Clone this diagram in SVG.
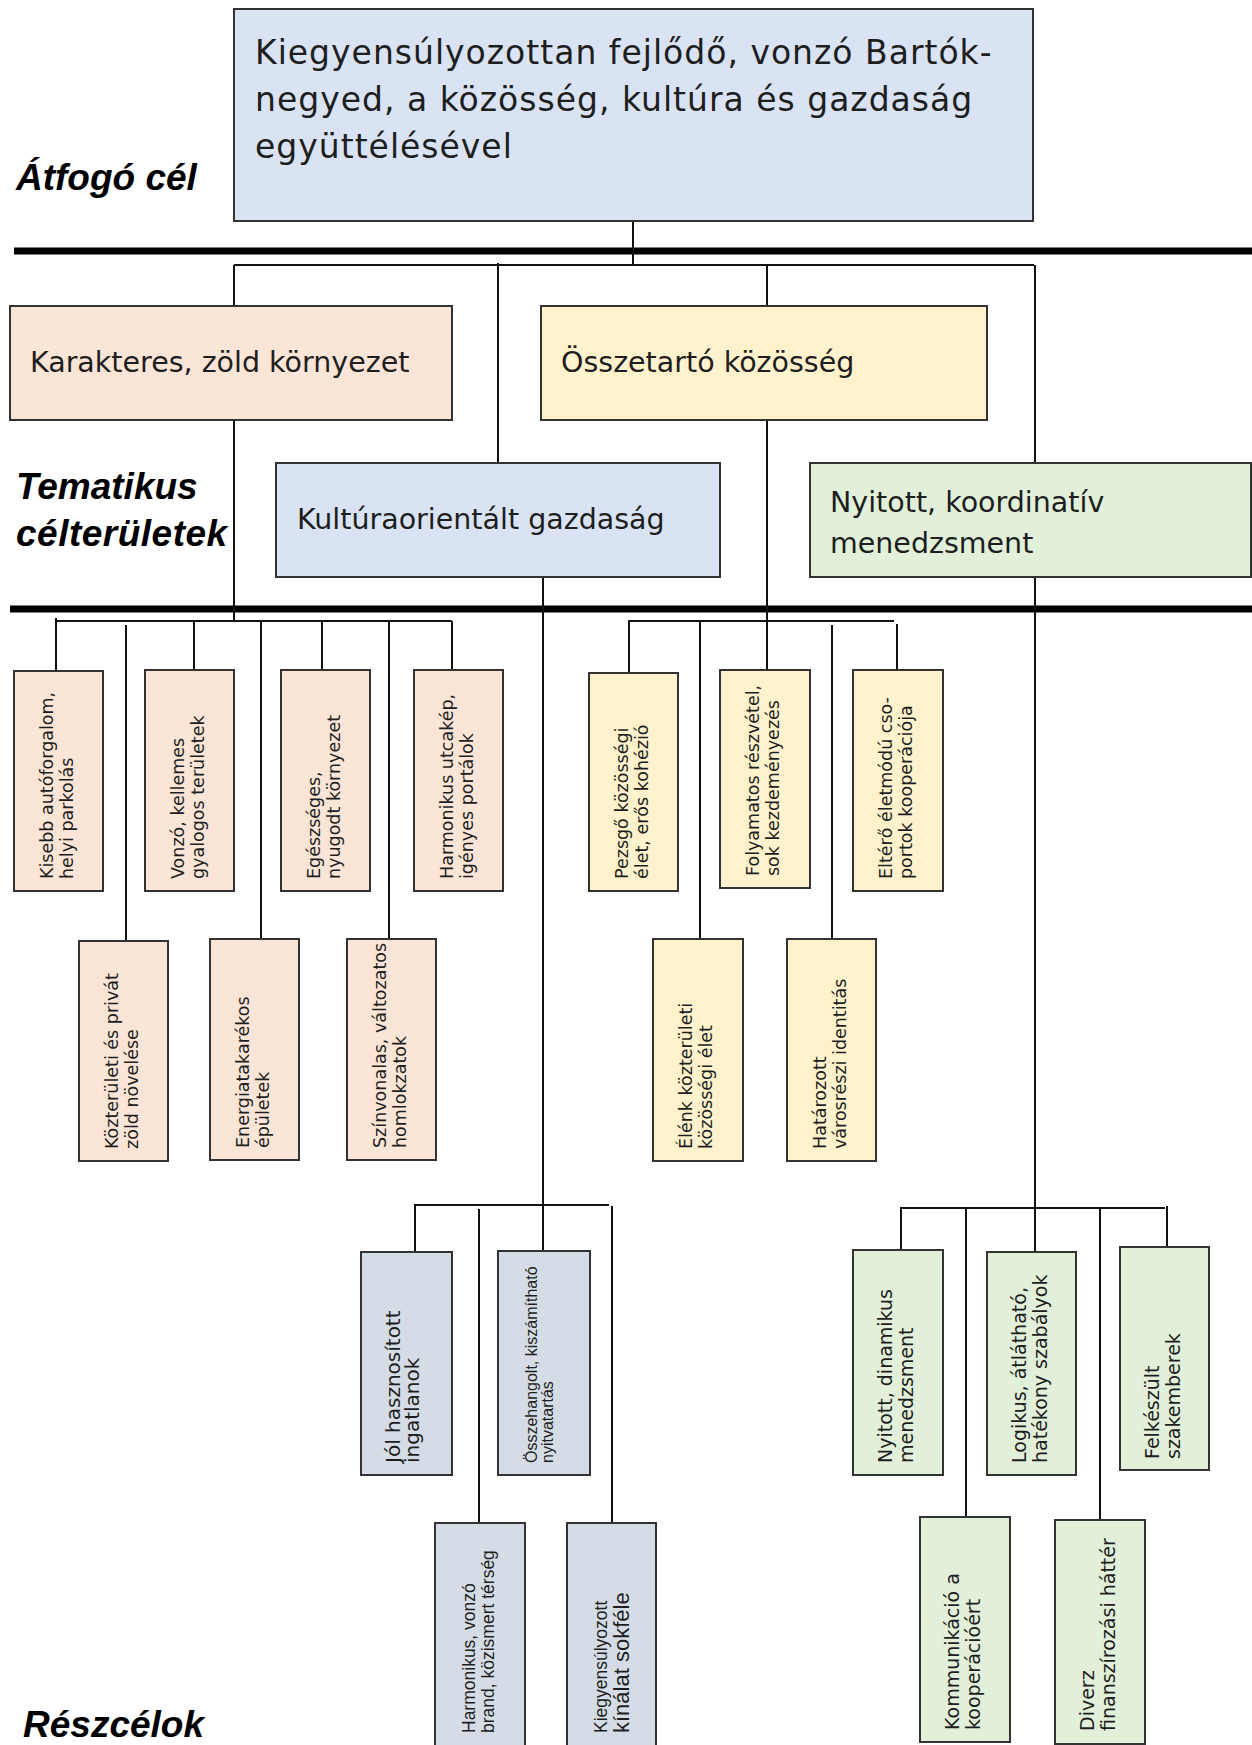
<svg xmlns="http://www.w3.org/2000/svg" width="1252" height="1745" viewBox="0 0 1252 1745">
<style>
.box{stroke:#333;stroke-width:2}
.blue{fill:#dae3f3}.pink{fill:#fbe5d6}.yellow{fill:#fff2cc}.green{fill:#e2f0d9}.gray{fill:#d6dce5}
.tx{font-family:"DejaVu Sans","Open Sans",sans-serif;fill:#1e1e1e}
.t1{font-size:33px;letter-spacing:1px}.t2{font-size:28.5px}.t3{font-size:17.5px}.t4{font-size:19px}.t5{font-size:20px}
.nar{font-family:"Liberation Sans",Arial,sans-serif;fill:#1e1e1e}
.lbl{font-family:"Liberation Sans",Arial,sans-serif;font-weight:bold;font-style:italic;font-size:37px;fill:#000}
#connectors line{stroke:#111;stroke-width:2}
#connectors line.thick{stroke:#000;stroke-width:7}
</style>
<rect width="1252" height="1745" fill="#fff"/>
<g id="labels">
<text class="lbl" x="16" y="190">Átfogó cél</text>
<text class="lbl" x="16" y="499">Tematikus</text>
<text class="lbl" x="16" y="546" letter-spacing="0.5">célterületek</text>
<text class="lbl" x="23" y="1737">Részcélok</text>
</g>
<g id="connectors">
<line class="thick" x1="14" y1="251" x2="1252" y2="251"/>
<line class="thick" x1="10" y1="609" x2="1252" y2="609"/>
<line x1="633" y1="221" x2="633" y2="265"/>
<line x1="234" y1="265" x2="1034" y2="265"/>
<line x1="234" y1="265" x2="234" y2="306"/>
<line x1="498" y1="263" x2="498" y2="463"/>
<line x1="767" y1="265" x2="767" y2="306"/>
<line x1="1035" y1="265" x2="1035" y2="463"/>
<line x1="234" y1="420" x2="234" y2="621"/>
<line x1="56" y1="621" x2="452" y2="621"/>
<line x1="56" y1="618" x2="56" y2="671"/>
<line x1="126" y1="625" x2="126" y2="941"/>
<line x1="194" y1="621" x2="194" y2="670"/>
<line x1="261" y1="621" x2="261" y2="939"/>
<line x1="322" y1="621" x2="322" y2="670"/>
<line x1="389" y1="621" x2="389" y2="939"/>
<line x1="452" y1="621" x2="452" y2="670"/>
<line x1="767" y1="420" x2="767" y2="670"/>
<line x1="628" y1="621" x2="894" y2="621"/>
<line x1="629" y1="621" x2="629" y2="673"/>
<line x1="700" y1="621" x2="700" y2="939"/>
<line x1="832" y1="625" x2="832" y2="939"/>
<line x1="897" y1="624" x2="897" y2="670"/>
<line x1="543" y1="577" x2="543" y2="1251"/>
<line x1="414" y1="1205" x2="609" y2="1205"/>
<line x1="415" y1="1205" x2="415" y2="1252"/>
<line x1="479" y1="1209" x2="479" y2="1523"/>
<line x1="612" y1="1206" x2="612" y2="1523"/>
<line x1="1035" y1="577" x2="1035" y2="1252"/>
<line x1="900" y1="1208" x2="1165" y2="1208"/>
<line x1="901" y1="1208" x2="901" y2="1250"/>
<line x1="966" y1="1207" x2="966" y2="1517"/>
<line x1="1100" y1="1208" x2="1100" y2="1520"/>
<line x1="1167" y1="1206" x2="1167" y2="1247"/>
</g>
<g id="goal">
<rect class="box blue" x="234" y="9" width="799" height="212"/>
<text class="tx t1" x="255" y="64">Kiegyensúlyozottan fejlődő, vonzó Bartók-</text>
<text class="tx t1" x="255" y="111">negyed, a közösség, kultúra és gazdaság</text>
<text class="tx t1" x="255" y="158">együttélésével</text>
</g>
<g id="theme-karakteres">
<rect class="box pink" x="10" y="306" width="442" height="114"/>
<text class="tx t2" x="30" y="372">Karakteres, zöld környezet</text>
</g>
<g id="theme-osszetarto">
<rect class="box yellow" x="541" y="306" width="446" height="114"/>
<text class="tx t2" x="561" y="372">Összetartó közösség</text>
</g>
<g id="theme-kultura">
<rect class="box blue" x="276" y="463" width="444" height="114"/>
<text class="tx t2" x="297" y="529">Kultúraorientált gazdaság</text>
</g>
<g id="theme-nyitott">
<rect class="box green" x="810" y="463" width="441" height="114"/>
<text class="tx t2" x="830" y="512">Nyitott, koordinatív</text>
<text class="tx t2" x="830" y="553">menedzsment</text>
</g>
<g id="p1"><rect class="box pink" x="14" y="671" width="89" height="220"/>
<text class="tx t3" transform="translate(52.5,879) rotate(-90)"><tspan x="0" y="0">Kisebb autóforgalom,</tspan><tspan x="0" y="20">helyi parkolás</tspan></text></g>
<g id="p2"><rect class="box pink" x="79" y="941" width="89" height="220"/>
<text class="tx t3" transform="translate(117.5,1149) rotate(-90)"><tspan x="0" y="0">Közterületi és privát</tspan><tspan x="0" y="20">zöld növelése</tspan></text></g>
<g id="p3"><rect class="box pink" x="145" y="670" width="89" height="221"/>
<text class="tx t3" transform="translate(183.5,879) rotate(-90)"><tspan x="0" y="0">Vonzó, kellemes</tspan><tspan x="0" y="20">gyalogos területek</tspan></text></g>
<g id="p4"><rect class="box pink" x="210" y="939" width="89" height="221"/>
<text class="tx t3" transform="translate(248.5,1148) rotate(-90)"><tspan x="0" y="0">Energiatakarékos</tspan><tspan x="0" y="20">épületek</tspan></text></g>
<g id="p5"><rect class="box pink" x="281" y="670" width="89" height="221"/>
<text class="tx t3" transform="translate(319.5,879) rotate(-90)"><tspan x="0" y="0">Egészséges,</tspan><tspan x="0" y="20">nyugodt környezet</tspan></text></g>
<g id="p6"><rect class="box pink" x="347" y="939" width="89" height="221"/>
<text class="tx t3" transform="translate(385.5,1148) rotate(-90)"><tspan x="0" y="0">Színvonalas, változatos</tspan><tspan x="0" y="20">homlokzatok</tspan></text></g>
<g id="p7"><rect class="box pink" x="414" y="670" width="89" height="221"/>
<text class="tx t3" transform="translate(452.5,879) rotate(-90)"><tspan x="0" y="0">Harmonikus utcakép,</tspan><tspan x="0" y="20">igényes portálok</tspan></text></g>
<g id="y1"><rect class="box yellow" x="589" y="673" width="89" height="218"/>
<text class="tx t3" transform="translate(627.5,879) rotate(-90)"><tspan x="0" y="0">Pezsgő közösségi</tspan><tspan x="0" y="20">élet, erős kohézió</tspan></text></g>
<g id="y2"><rect class="box yellow" x="653" y="939" width="90" height="222"/>
<text class="tx t3" transform="translate(692,1149) rotate(-90)"><tspan x="0" y="0">Élénk közterületi</tspan><tspan x="0" y="20">közösségi élet</tspan></text></g>
<g id="y3"><rect class="box yellow" x="720" y="670" width="90" height="218"/>
<text class="tx t3" transform="translate(759,876) rotate(-90)"><tspan x="0" y="0">Folyamatos részvétel,</tspan><tspan x="0" y="20">sok kezdeményezés</tspan></text></g>
<g id="y4"><rect class="box yellow" x="787" y="939" width="89" height="222"/>
<text class="tx t3" transform="translate(825.5,1149) rotate(-90)"><tspan x="0" y="0">Határozott</tspan><tspan x="0" y="20">városrészi identitás</tspan></text></g>
<g id="y5"><rect class="box yellow" x="853" y="670" width="90" height="221"/>
<text class="tx t3" transform="translate(892,879) rotate(-90)"><tspan x="0" y="0">Eltérő életmódú cso-</tspan><tspan x="0" y="20">portok kooperációja</tspan></text></g>
<g id="k1"><rect class="box gray" x="361" y="1252" width="91" height="223"/>
<text class="tx t5" transform="translate(400,1463) rotate(-90)"><tspan x="0" y="0">Jól hasznosított</tspan><tspan x="0" y="19">ingatlanok</tspan></text></g>
<g id="k2"><rect class="box gray" x="498" y="1251" width="92" height="224"/>
<text class="nar" font-size="16" transform="translate(537,1463) rotate(-90)"><tspan x="0" y="0">Összehangolt, kiszámítható</tspan><tspan x="0" y="16">nyitvatartás</tspan></text></g>
<g id="k3"><rect class="box gray" x="435" y="1523" width="90" height="240"/>
<text class="nar" font-size="17.5" transform="translate(475,1733) rotate(-90)"><tspan x="0" y="0">Harmonikus, vonzó</tspan><tspan x="0" y="19">brand, közismert térség</tspan></text></g>
<g id="k4"><rect class="box gray" x="567" y="1523" width="89" height="240"/>
<text class="nar" font-size="17.5" transform="translate(607,1733) rotate(-90)"><tspan x="0" y="0">Kiegyensúlyozott</tspan><tspan x="0" y="22" font-size="22">kínálat sokféle</tspan></text></g>
<g id="g1"><rect class="box green" x="853" y="1250" width="90" height="225"/>
<text class="tx t4" transform="translate(892,1463) rotate(-90)"><tspan x="0" y="0">Nyitott, dinamikus</tspan><tspan x="0" y="21">menedzsment</tspan></text></g>
<g id="g2"><rect class="box green" x="920" y="1517" width="90" height="225"/>
<text class="tx t4" transform="translate(959,1730) rotate(-90)"><tspan x="0" y="0">Kommunikáció a</tspan><tspan x="0" y="21">kooperációért</tspan></text></g>
<g id="g3"><rect class="box green" x="987" y="1252" width="89" height="223"/>
<text class="tx t4" transform="translate(1025.5,1463) rotate(-90)"><tspan x="0" y="0">Logikus, átlátható,</tspan><tspan x="0" y="21">hatékony szabályok</tspan></text></g>
<g id="g4"><rect class="box green" x="1055" y="1520" width="90" height="224"/>
<text class="tx t4" transform="translate(1094,1731) rotate(-90)"><tspan x="0" y="0">Diverz</tspan><tspan x="0" y="21">finanszírozási háttér</tspan></text></g>
<g id="g5"><rect class="box green" x="1120" y="1247" width="89" height="223"/>
<text class="tx t4" transform="translate(1158.5,1459) rotate(-90)"><tspan x="0" y="0">Felkészült</tspan><tspan x="0" y="21">szakemberek</tspan></text></g>
</svg>
